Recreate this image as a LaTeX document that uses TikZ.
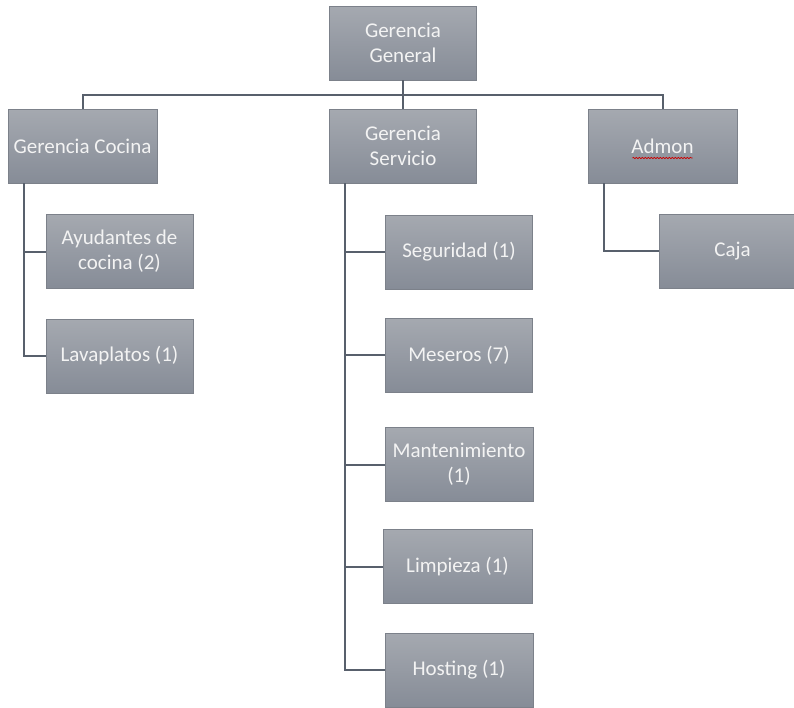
\documentclass[tikz,border=0pt]{standalone}
\usepackage{fontspec}
\setmainfont{Carlito}
\usetikzlibrary{decorations.pathmorphing}
\definecolor{boxtop}{HTML}{A5A9B0}
\definecolor{boxbot}{HTML}{868C97}
\definecolor{boxedge}{HTML}{7C818A}
\definecolor{linec}{HTML}{58606C}
\definecolor{txt}{HTML}{F3F3F3}
\tikzset{
  orgbox/.style={draw=boxedge, line width=0.8pt, top color=boxtop, bottom color=boxbot,
    minimum width=147pt, minimum height=74pt, inner sep=2pt, align=center,
    text=txt, font=\fontsize{21}{25}\selectfont},
  conn/.style={draw=linec, line width=2pt},
}
\begin{document}
\begin{tikzpicture}[x=1pt,y=-1pt]
\useasboundingbox (0,0) rectangle (794,707);
\clip (0,0) rectangle (794,707);
\fill[white] (0,0) rectangle (794,707);
% nodes
\node[orgbox] (gg) at (403,43) {Gerencia\\General};
\node[orgbox, minimum width=149pt] (gc) at (82.5,146) {Gerencia Cocina};
\node[orgbox] (gs) at (403,146) {Gerencia\\Servicio};
\node[orgbox, minimum width=149pt] (ad) at (662.5,146) {Admon};
\node[orgbox] (ay) at (119.5,251.5) {Ayudantes de\\cocina (2)};
\node[orgbox] (la) at (119.5,356) {Lavaplatos (1)};
\node[orgbox] (se) at (459,252) {Seguridad (1)};
\node[orgbox] (me) at (459,355) {Meseros (7)};
\node[orgbox, minimum width=148pt] (ma) at (459,464.5) {Mantenimiento\\(1)};
\node[orgbox, minimum width=149pt] (li) at (457.5,566.5) {Limpieza (1)};
\node[orgbox, minimum width=148pt] (ho) at (459,670) {Hosting (1)};
\node[orgbox] (ca) at (732.5,251) {Caja};
% spell-check underline
\draw[red!80!black, line width=0.7pt, decorate, decoration={snake, amplitude=0.7pt, segment length=3pt}]
  ([xshift=-30pt,yshift=-12pt]ad.center) -- ([xshift=30pt,yshift=-12pt]ad.center);
% coordinates
\coordinate (bus) at (0,95);
\coordinate (gcr) at (24,183);
\coordinate (gsr) at (345,183);
\coordinate (adr) at (604,183);
% connectors
\draw[conn] (gg.south) -- (gg.south |- bus);
\draw[conn] (gc.north) -- (gc.north |- bus) -- (ad.north |- bus) -- (ad.north);
\draw[conn] (gs.north) -- (gs.north |- bus);
\draw[conn] (gcr) |- (la.west);
\draw[conn] (gcr |- ay.west) -- (ay.west);
\draw[conn] (gsr) |- (ho.west);
\draw[conn] (gsr |- se.west) -- (se.west);
\draw[conn] (gsr |- me.west) -- (me.west);
\draw[conn] (gsr |- ma.west) -- (ma.west);
\draw[conn] (gsr |- li.west) -- (li.west);
\draw[conn] (adr) |- (ca.west);
\end{tikzpicture}
\end{document}
